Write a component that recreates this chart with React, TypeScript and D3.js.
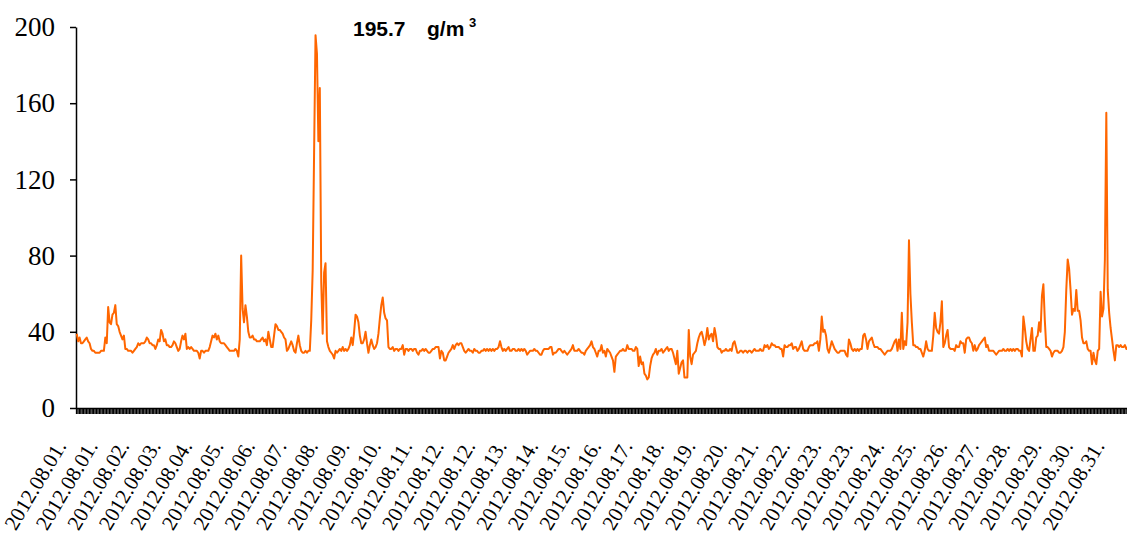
import React, { useEffect, useRef } from 'react';
import * as d3 from 'd3';

// hourly concentration, 2012.08.01 00h .. 2012.08.31 23h (24 values per day)
const aug01to07 = [
  39, 35, 37, 34, 34, 35, 36, 37, 35, 34, 31, 30, 30, 29, 29, 29, 29, 30, 30, 30, 37, 34, 53, 45,
  44, 49, 50, 54, 44, 43, 40, 38, 36, 38, 31, 31, 30, 30, 30, 29, 30, 31, 32, 34, 33, 34, 34, 34,
  35, 37, 36, 34, 34, 33, 33, 31, 33, 36, 35, 41, 39, 35, 36, 33, 33, 32, 32, 33, 35, 34, 32, 30,
  31, 35, 38, 36, 39, 31, 32, 31, 32, 31, 30, 30, 30, 29, 26, 30, 30, 29, 30, 30, 30, 32, 35, 38,
  37, 39, 36, 38, 35, 34, 34, 34, 33, 32, 31, 30, 30, 30, 30, 31, 30, 27, 36, 80, 52, 45, 54, 48,
  40, 37, 37, 38, 36, 36, 35, 35, 35, 36, 37, 35, 36, 33, 40, 36, 32, 32, 38, 44, 43, 41, 41, 40,
  39, 37, 36, 30, 31, 33, 35, 33, 30, 29, 34, 38, 33, 30, 29, 29, 30, 29, 30, 30, 46, 72, 134, 195.7,
];
const aug08to14 = [
  186, 140, 168, 66, 39, 71, 76, 35, 32, 30, 29, 28, 26, 30, 29, 30, 31, 30, 32, 30, 31, 30, 31, 33,
  37, 33, 40, 49, 48, 45, 38, 34, 34, 36, 40, 34, 29, 33, 36, 33, 31, 32, 34, 39, 47, 54, 58, 50,
  47, 46, 32, 31, 31, 32, 30, 31, 31, 30, 31, 31, 33, 28, 31, 31, 30, 31, 31, 30, 31, 31, 29, 28,
  30, 30, 31, 30, 31, 30, 29, 29, 30, 31, 31, 32, 32, 32, 26, 30, 29, 25, 25, 27, 29, 30, 31, 33,
  31, 33, 34, 33, 34, 34, 32, 30, 29, 30, 31, 30, 30, 29, 31, 30, 30, 29, 29, 30, 30, 31, 30, 31,
  30, 31, 30, 31, 30, 31, 31, 32, 35, 32, 30, 31, 30, 31, 32, 30, 30, 31, 31, 30, 30, 31, 30, 31,
  30, 31, 30, 28, 29, 30, 30, 30, 31, 30, 30, 29, 28, 28, 30, 31, 31, 31, 31, 32, 32, 28, 29, 29,
];
const aug15to21 = [
  30, 31, 31, 30, 29, 30, 29, 28, 29, 30, 31, 33, 30, 30, 30, 31, 30, 29, 29, 28, 30, 31, 32, 33,
  35, 32, 31, 29, 27, 30, 30, 33, 29, 30, 27, 31, 30, 29, 27, 25, 19, 27, 28, 29, 30, 30, 31, 30,
  30, 33, 31, 31, 31, 30, 30, 32, 31, 22, 27, 23, 24, 18, 17, 15, 16, 22, 26, 28, 29, 31, 28, 30,
  30, 31, 29, 30, 31, 32, 30, 31, 31, 29, 26, 23, 30, 18, 21, 24, 25, 16, 16, 16, 41, 27, 23, 28,
  29, 30, 34, 37, 39, 40, 37, 33, 36, 42, 36, 38, 39, 35, 42, 38, 32, 31, 31, 29, 30, 30, 31, 30,
  30, 31, 30, 34, 35, 32, 29, 29, 30, 30, 29, 30, 30, 29, 30, 30, 29, 30, 31, 30, 30, 30, 31, 30,
  30, 33, 32, 33, 31, 32, 34, 33, 33, 32, 32, 32, 31, 31, 27, 33, 32, 32, 33, 33, 34, 31, 32, 32,
];
const aug22to28 = [
  30, 31, 33, 35, 31, 30, 30, 30, 32, 33, 33, 33, 34, 34, 35, 30, 36, 48, 40, 41, 38, 31, 29, 32,
  35, 33, 31, 30, 29, 29, 30, 30, 30, 30, 28, 27, 36, 34, 31, 30, 31, 30, 31, 30, 31, 31, 38, 39,
  36, 31, 35, 36, 37, 34, 32, 32, 32, 31, 31, 30, 29, 28, 29, 30, 30, 30, 31, 33, 35, 36, 30, 36,
  31, 50, 31, 35, 33, 45, 88, 60, 45, 33, 33, 32, 32, 31, 31, 29, 27, 30, 35, 31, 30, 30, 30, 38,
  50, 42, 40, 39, 45, 56, 32, 34, 38, 41, 32, 31, 31, 31, 30, 33, 32, 32, 35, 34, 34, 29, 36, 37,
  37, 35, 34, 30, 33, 30, 31, 33, 34, 35, 36, 37, 32, 33, 30, 30, 30, 30, 29, 28, 29, 30, 30, 30,
  31, 30, 30, 31, 30, 31, 30, 31, 30, 31, 31, 30, 30, 27, 48, 42, 35, 31, 30, 36, 42, 30, 30, 37,
];
const aug29to31 = [
  38, 45, 40, 59, 65, 46, 32, 32, 31, 30, 27, 29, 30, 30, 30, 29, 29, 30, 32, 40, 62, 78, 73, 62,
  49, 52, 51, 62, 51, 51, 46, 37, 34, 34, 35, 31, 30, 30, 23, 29, 25, 23, 30, 31, 61, 48, 52, 78,
  155, 62, 50, 42, 36, 30, 25, 33, 33, 32, 33, 32, 32, 33, 31, 32, 33, 31, 32, 30, 31, 33, 32, 31,
];

const dayLabels = [
  '2012.08.01.', '2012.08.02.', '2012.08.03.', '2012.08.04.', '2012.08.05.', '2012.08.06.',
  '2012.08.07.', '2012.08.08.', '2012.08.09.', '2012.08.10.', '2012.08.11.', '2012.08.12.',
  '2012.08.13.', '2012.08.14.', '2012.08.15.', '2012.08.16.', '2012.08.17.', '2012.08.18.',
  '2012.08.19.', '2012.08.20.', '2012.08.21.', '2012.08.22.', '2012.08.23.', '2012.08.24.',
  '2012.08.25.', '2012.08.26.', '2012.08.27.', '2012.08.28.', '2012.08.29.', '2012.08.30.',
  '2012.08.31.',
];

const yTicks = [0, 40, 80, 120, 160, 200];
const peakText = '195.7';
const unitText = 'g/m';
const unitSup = '3';

const hourly = [...aug01to07, ...aug08to14, ...aug15to21, ...aug22to28, ...aug29to31];

const serif = '"Liberation Serif", "Times New Roman", serif';

export default function App() {
  const svgRef = useRef<SVGSVGElement>(null);

  useEffect(() => {
    if (!svgRef.current) return;
    const svg = d3.select(svgRef.current);
    svg.selectAll('*').remove();

    const left = 76;
    const bottom = 408;
    const top = 27;
    const step = 1.43; // px per category (hour)
    const n = hourly.length;

    const x = d3.scaleLinear().domain([0, n]).range([left, left + n * step]);
    const y = d3.scaleLinear().domain([0, 200]).range([bottom, top]);

    // y axis
    const yAxis = svg.append('g')
      .attr('transform', `translate(${left},0)`)
      .call(d3.axisLeft(y).tickValues(yTicks).tickSize(6).tickSizeOuter(0).tickPadding(15));
    yAxis.attr('font-family', serif).attr('font-size', 27);
    yAxis.select('.domain').attr('stroke', '#000').attr('stroke-width', 1.5);
    yAxis.selectAll('line').attr('stroke', '#000').attr('stroke-width', 1.5);
    yAxis.selectAll('text').attr('fill', '#000');

    // x axis: one tick per category boundary
    const xAxis = svg.append('g')
      .attr('transform', `translate(0,${bottom})`)
      .call(d3.axisBottom(x).tickValues(d3.range(0, n + 1)).tickSize(6).tickSizeOuter(0).tickFormat(() => ''));
    xAxis.select('.domain').attr('stroke', '#000').attr('stroke-width', 1.5);
    xAxis.selectAll('line').attr('stroke', '#000').attr('stroke-width', 1.3);

    // category labels every 22 hours
    const labelIdx = d3.range(0, n, 22);
    svg.append('g')
      .attr('font-family', serif)
      .attr('font-size', 21)
      .selectAll('text')
      .data(labelIdx)
      .enter()
      .append('text')
      .attr('transform', d => `translate(${x(d + 0.5) - 9.7},446) rotate(-59)`)
      .attr('text-anchor', 'end')
      .attr('fill', '#000')
      .text(d => dayLabels[Math.floor(d / 24)]);

    // series
    const line = d3.line<number>()
      .x((_, i) => x(i + 0.5))
      .y(d => y(d));
    svg.append('path')
      .datum(hourly)
      .attr('d', line)
      .attr('fill', 'none')
      .attr('stroke', '#FF6600')
      .attr('stroke-width', 2)
      .attr('stroke-linejoin', 'round');

    // peak annotation
    const note = svg.append('text')
      .attr('y', 36)
      .attr('fill', '#000')
      .attr('font-family', '"Liberation Sans", Arial, sans-serif')
      .attr('font-weight', 'bold')
      .attr('font-size', 21);
    note.append('tspan').attr('x', 353).text(peakText);
    note.append('tspan').attr('x', 427).text(unitText);
    note.append('tspan').attr('x', 469).attr('y', 27).attr('font-size', 13).text(unitSup);
  }, []);

  return (
    <svg
      ref={svgRef}
      width={1127}
      height={536}
      style={{ position: 'absolute', left: 0, top: 0, background: '#fff' }}
    />
  );
}
